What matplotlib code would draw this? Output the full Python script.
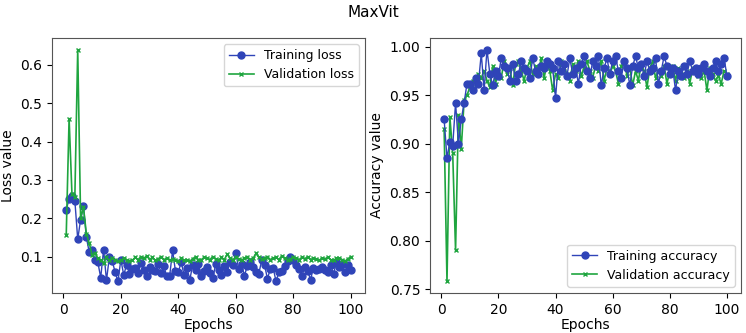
import matplotlib
matplotlib.use('Agg')
import matplotlib.pyplot as plt

epochs = list(range(1, 101))

train_loss = [
    0.222, 0.250, 0.258, 0.246, 0.145, 0.196, 0.232, 0.150, 0.112, 0.118,
    0.090, 0.085, 0.045, 0.118, 0.038, 0.098, 0.088, 0.060, 0.035, 0.092,
    0.052, 0.078, 0.055, 0.068, 0.070, 0.058, 0.082, 0.064, 0.050, 0.072,
    0.066, 0.062, 0.080, 0.058, 0.074, 0.048, 0.050, 0.116, 0.062, 0.060,
    0.085, 0.052, 0.070, 0.040, 0.078, 0.065, 0.080, 0.048, 0.062, 0.072,
    0.058, 0.044, 0.080, 0.066, 0.052, 0.075, 0.060, 0.085, 0.078, 0.110,
    0.068, 0.080, 0.050, 0.076, 0.085, 0.072, 0.060, 0.055, 0.090, 0.078,
    0.042, 0.068, 0.070, 0.035, 0.060, 0.062, 0.075, 0.088, 0.098, 0.090,
    0.078, 0.068, 0.050, 0.072, 0.062, 0.040, 0.070, 0.066, 0.068, 0.072,
    0.065, 0.060, 0.078, 0.055, 0.085, 0.072, 0.080, 0.060, 0.078, 0.065,
]
val_loss = [
    0.155, 0.460, 0.262, 0.255, 0.640, 0.200, 0.228, 0.160, 0.135, 0.105,
    0.108, 0.095, 0.090, 0.082, 0.098, 0.090, 0.095, 0.092, 0.088, 0.090,
    0.095, 0.092, 0.088, 0.090, 0.098, 0.092, 0.100, 0.095, 0.102, 0.092,
    0.098, 0.090, 0.094, 0.100, 0.092, 0.096, 0.090, 0.094, 0.092, 0.088,
    0.095, 0.090, 0.092, 0.088, 0.094, 0.100, 0.090, 0.092, 0.098, 0.095,
    0.092, 0.100, 0.094, 0.090, 0.098, 0.092, 0.106, 0.095, 0.092, 0.098,
    0.094, 0.090, 0.096, 0.100, 0.092, 0.095, 0.108, 0.098, 0.094, 0.096,
    0.100, 0.092, 0.096, 0.098, 0.092, 0.102, 0.095, 0.090, 0.094, 0.098,
    0.096, 0.092, 0.098, 0.094, 0.100, 0.092, 0.096, 0.094, 0.090, 0.096,
    0.094, 0.098, 0.092, 0.090, 0.095, 0.096, 0.092, 0.088, 0.094, 0.100,
]
train_acc = [
    0.925, 0.885, 0.902, 0.898, 0.942, 0.900, 0.925, 0.942, 0.962, 0.962,
    0.955, 0.968, 0.962, 0.993, 0.955, 0.997, 0.972, 0.960, 0.975, 0.970,
    0.988, 0.980, 0.978, 0.965, 0.982, 0.965, 0.972, 0.985, 0.978, 0.975,
    0.968, 0.988, 0.975, 0.972, 0.980, 0.978, 0.985, 0.982, 0.978, 0.947,
    0.985, 0.975, 0.982, 0.970, 0.988, 0.972, 0.978, 0.962, 0.982, 0.990,
    0.975, 0.968, 0.985, 0.980, 0.990, 0.960, 0.978, 0.988, 0.972, 0.985,
    0.990, 0.975, 0.968, 0.985, 0.978, 0.960, 0.980, 0.990, 0.978, 0.982,
    0.970, 0.985, 0.975, 0.978, 0.988, 0.962, 0.975, 0.990, 0.980, 0.972,
    0.978, 0.955, 0.975, 0.970, 0.980, 0.972, 0.985, 0.975, 0.978, 0.972,
    0.978, 0.982, 0.975, 0.970, 0.978, 0.985, 0.975, 0.982, 0.988, 0.970,
]
val_acc = [
    0.915, 0.758, 0.928, 0.890, 0.790, 0.930, 0.895, 0.945, 0.950, 0.958,
    0.965, 0.962, 0.972, 0.968, 0.975, 0.965, 0.958, 0.980, 0.962, 0.975,
    0.968, 0.985, 0.972, 0.978, 0.960, 0.982, 0.985, 0.975, 0.965, 0.978,
    0.985, 0.972, 0.980, 0.975, 0.988, 0.968, 0.982, 0.975, 0.955, 0.972,
    0.968, 0.985, 0.978, 0.972, 0.965, 0.982, 0.975, 0.985, 0.970, 0.978,
    0.985, 0.975, 0.968, 0.980, 0.975, 0.985, 0.965, 0.978, 0.972, 0.980,
    0.975, 0.962, 0.980, 0.985, 0.970, 0.978, 0.960, 0.975, 0.965, 0.982,
    0.975, 0.958, 0.978, 0.985, 0.968, 0.975, 0.970, 0.980, 0.962, 0.975,
    0.980, 0.965, 0.978, 0.972, 0.968, 0.975, 0.962, 0.978, 0.975, 0.970,
    0.968, 0.975, 0.955, 0.978, 0.972, 0.965, 0.970, 0.962, 0.975, 0.972,
]

blue = '#2f44b8'
green = '#1fa53f'

fig = plt.figure(figsize=(7.46, 3.33), dpi=100)
ax1 = fig.add_axes([0.0697, 0.120, 0.4196, 0.766])
ax2 = fig.add_axes([0.5764, 0.120, 0.4170, 0.766])

ax1.plot(epochs, train_loss, marker='o', color=blue, markersize=5, linewidth=1, label='Training loss')
ax1.plot(epochs, val_loss, marker='x', color=green, markersize=3.5, linewidth=1.2, label='Validation loss')
ax1.set_xlabel('Epochs', fontsize=10, labelpad=1)
ax1.set_ylabel('Loss value', fontsize=10)
ax1.legend(loc='upper right', fontsize=9)

ax2.plot(epochs, val_acc, marker='x', color=green, markersize=3.5, linewidth=1.2, label='Validation accuracy')
ax2.plot(epochs, train_acc, marker='o', color=blue, markersize=5, linewidth=1, label='Training accuracy')
ax2.set_xlabel('Epochs', fontsize=10, labelpad=1)
ax2.set_ylabel('Accuracy value', fontsize=10)
h, l = ax2.get_legend_handles_labels()
ax2.legend(h[::-1], l[::-1], loc='lower right', fontsize=9)

for ax in (ax1, ax2):
    ax.tick_params(labelsize=10)
    for s in ax.spines.values():
        s.set_color('#555555')

fig.suptitle('MaxVit', fontsize=11, y=0.985)
fig.savefig('out.png', dpi=100)
